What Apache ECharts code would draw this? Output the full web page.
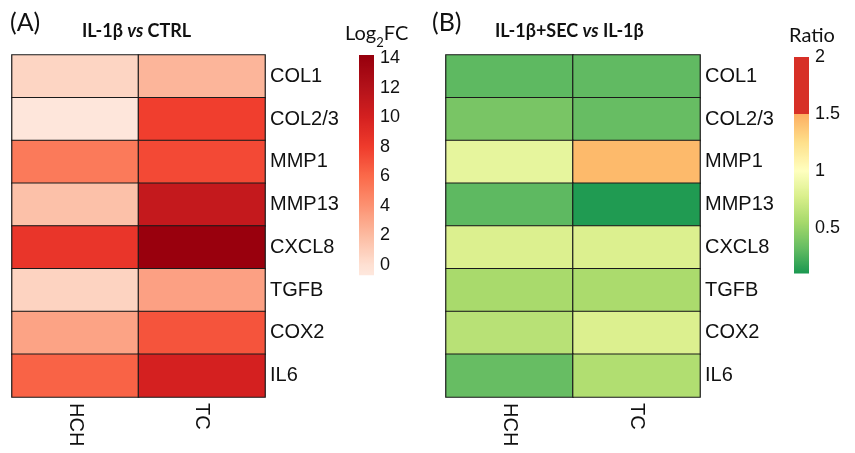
<!DOCTYPE html>
<html>
<head>
<meta charset="utf-8">
<script src="https://cdn.jsdelivr.net/npm/echarts@6/dist/echarts.min.js"></script>
<style>
html,body{margin:0;padding:0;background:#fff;}
#chart{width:855px;height:453px;}
</style>
</head>
<body>
<div id="chart"></div>
<script>
// ---- data ----
const genes = ['COL1', 'COL2/3', 'MMP1', 'MMP13', 'CXCL8', 'TGFB', 'COX2', 'IL6'];
const cellTypes = ['HCH', 'TC'];
const log2fcHCH = [0.6, -0.5, 5.2, 1.7, 8.4, 0.7, 3.2, 6.3];
const log2fcTC = [2.3, 7.9, 7.4, 11.0, 14.0, 3.3, 6.9, 10.0];
const ratioHCH = [0.30, 0.39, 0.85, 0.30, 0.79, 0.56, 0.63, 0.33];
const ratioTC = [0.31, 0.33, 1.44, 0.12, 0.79, 0.57, 0.79, 0.60];
const log2fcRange = [-0.7, 14.2];
const ratioRange = [0.1, 2.0];
const log2fcTicks = [0, 14, 2];   // min, max, interval
const ratioTicks = [0.5, 2, 0.5];

// ---- colour scales ----
const redStops = [[-0.7,'#fee8de'],[0,'#fee0d2'],[2,'#fcbba1'],[4,'#fc9272'],[6,'#fb6a4a'],[8,'#ef3b2c'],[10,'#d42020'],[12,'#b3121a'],[14,'#99000d'],[14.2,'#96000d']];
const ratioStops = [[0.1,'#1a9850'],[0.325,'#66bd63'],[0.55,'#a6d96a'],[0.775,'#d9ef8b'],[1,'#ffffbf'],[1.25,'#fee08b'],[1.5,'#fdae61'],[1.5001,'#d73027'],[2,'#d73027']];

function hex2rgb(h){h=h.replace('#','');return [parseInt(h.substr(0,2),16),parseInt(h.substr(2,2),16),parseInt(h.substr(4,2),16)];}
function rgb2hex(c){return '#'+c.map(v=>Math.round(v).toString(16).padStart(2,'0')).join('');}
function scaleColor(stops, v){
  if (v <= stops[0][0]) return stops[0][1];
  for (let i = 1; i < stops.length; i++) {
    if (v <= stops[i][0]) {
      const t = (v - stops[i-1][0]) / (stops[i][0] - stops[i-1][0]);
      const a = hex2rgb(stops[i-1][1]), b = hex2rgb(stops[i][1]);
      return rgb2hex(a.map((x,k)=>x+(b[k]-x)*t));
    }
  }
  return stops[stops.length-1][1];
}
function sampleColors(stops, lo, hi, n){
  const out=[]; for(let i=0;i<n;i++){out.push(scaleColor(stops, lo+(hi-lo)*i/(n-1)));} return out;
}
function gradientStops(stops, lo, hi, n){
  const out=[]; for(let i=0;i<n;i++){const v=hi-(hi-lo)*i/(n-1); out.push({offset:i/(n-1), color:scaleColor(stops,v)});} return out;
}

function heatData(a, b){
  const d=[]; genes.forEach((g,i)=>{d.push([0,i,a[i]]); d.push([1,i,b[i]]);}); return d;
}

const FONT = "'Liberation Sans', Arial, sans-serif";
const TFONT = "Lato, 'Open Sans', sans-serif";
const TXT = '#111';

const chart = echarts.init(document.getElementById('chart'), null, {renderer:'canvas'});

function colorbarRender(stops){
  return function(params, api){
    const top = api.coord([0, api.value(2)]);
    const bot = api.coord([0, api.value(1)]);
    const w = api.size([1,0])[0];
    return {type:'rect', shape:{x: top[0]-w/2, y: top[1], width: w, height: bot[1]-top[1]},
      style:{fill:{type:'linear', x:0, y:0, x2:0, y2:1, colorStops: gradientStops(stops, api.value(1), api.value(2), 300)}}};
  };
}

const catY = (gi) => ({
  type:'category', data: genes, gridIndex: gi, inverse:true, position:'right',
  axisLine:{show:false}, axisTick:{show:false}, splitLine:{show:false},
  axisLabel:{fontSize:20, color:TXT, fontFamily:FONT, margin:5}
});
const catX = (gi) => ({
  type:'category', data: cellTypes, gridIndex: gi, position:'bottom',
  axisLine:{show:false}, axisTick:{show:false}, splitLine:{show:false},
  axisLabel:{fontSize:20, color:TXT, fontFamily:FONT, rotate:-90, margin:6}
});
const barX = (gi) => ({type:'category', data:[''], gridIndex:gi, show:false});
const barY = (gi, t) => ({
  type:'value', gridIndex:gi, min:t[0], max:t[1], interval:t[2], position:'right',
  axisLine:{show:false}, axisTick:{show:false}, splitLine:{show:false},
  axisLabel:{fontSize:18, color:TXT, fontFamily:FONT, margin:6}
});

const boldTitle = (txt, left) => ({
  text: txt, left: left, top: 17,
  textStyle:{fontSize:18, fontWeight:'bold', fontFamily:TFONT, color:TXT,
    rich:{i:{fontSize:18, fontWeight:'bold', fontStyle:'italic', fontFamily:TFONT, color:TXT}}}
});

const option = {
  backgroundColor:'#fff',
  animation:false,
  title:[
    {text:'(A)', left:5, top:5, textStyle:{fontSize:25, fontWeight:'normal', fontFamily:TFONT, color:TXT}},
    boldTitle('IL-1β {i|vs} CTRL', 77),
    {text:'{a|Log}{s|2}{a|FC}', left:340, top:19, textStyle:{fontSize:20, fontWeight:'normal', fontFamily:TFONT, color:TXT,
      rich:{
        a:{fontSize:20, fontWeight:'normal', fontFamily:TFONT, color:TXT, verticalAlign:'top', lineHeight:25},
        s:{fontSize:13, fontWeight:'normal', fontFamily:TFONT, color:TXT, verticalAlign:'bottom', lineHeight:25}}}},
    {text:'(B)', left:427, top:5, textStyle:{fontSize:25, fontWeight:'normal', fontFamily:TFONT, color:TXT}},
    boldTitle('IL-1β+SEC {i|vs} IL-1β', 490),
    {text:'Ratio', left:784, top:21, textStyle:{fontSize:20, fontWeight:'normal', fontFamily:TFONT, color:TXT}}
  ],
  grid:[
    {left:12, top:55, width:253, height:342},
    {left:446, top:55, width:254, height:342},
    {left:359, top:58, width:15, height:207},
    {left:794, top:57, width:15, height:171}
  ],
  xAxis:[catX(0), catX(1), barX(2), barX(3)],
  yAxis:[catY(0), catY(1), barY(2, log2fcTicks), barY(3, ratioTicks)],
  visualMap:[
    {type:'continuous', show:false, seriesIndex:0, min:log2fcRange[0], max:log2fcRange[1],
      inRange:{color: sampleColors(redStops, log2fcRange[0], log2fcRange[1], 400)}},
    {type:'continuous', show:false, seriesIndex:1, min:ratioRange[0], max:ratioRange[1],
      inRange:{color: sampleColors(ratioStops, ratioRange[0], ratioRange[1], 400)}}
  ],
  series:[
    {type:'heatmap', xAxisIndex:0, yAxisIndex:0, data: heatData(log2fcHCH, log2fcTC),
      itemStyle:{borderColor:'#1a1a1a', borderWidth:1.2}, emphasis:{disabled:true}},
    {type:'heatmap', xAxisIndex:1, yAxisIndex:1, data: heatData(ratioHCH, ratioTC),
      itemStyle:{borderColor:'#1a1a1a', borderWidth:1.2}, emphasis:{disabled:true}},
    {type:'custom', xAxisIndex:2, yAxisIndex:2, renderItem: colorbarRender(redStops),
      encode:{x:0, y:[1,2]}, data:[[0, log2fcRange[0], log2fcRange[1]]], clip:false, silent:true},
    {type:'custom', xAxisIndex:3, yAxisIndex:3, renderItem: colorbarRender(ratioStops),
      encode:{x:0, y:[1,2]}, data:[[0, ratioRange[0], ratioRange[1]]], clip:false, silent:true}
  ]
};
chart.setOption(option);
</script>
</body>
</html>
